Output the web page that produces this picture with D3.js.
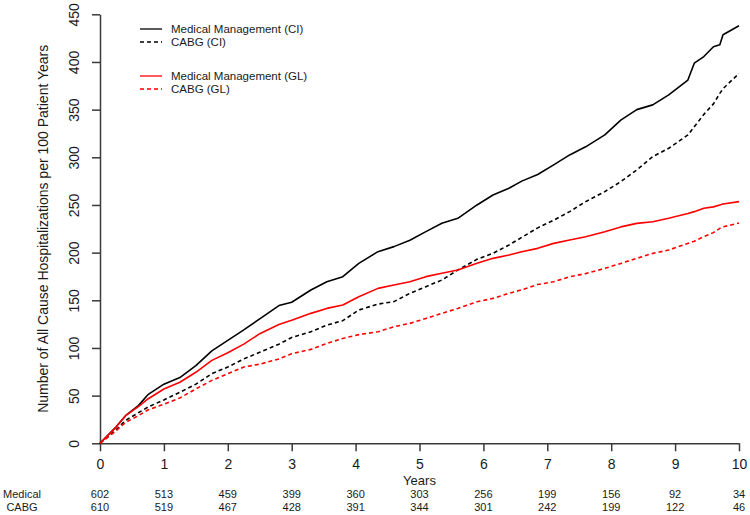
<!DOCTYPE html>
<html>
<head>
<meta charset="utf-8">
<script src="https://cdn.jsdelivr.net/npm/d3@7"></script>
<style>
  html, body { margin: 0; padding: 0; background: #fff; }
  svg { display: block; font-family: "Liberation Sans", Arial, sans-serif; }
</style>
</head>
<body>
<svg id="chart" width="750" height="515"></svg>
<script>
// ---- data ----
const years = [0, 0.25, 0.4, 0.6, 0.75, 1, 1.25, 1.5, 1.75, 2, 2.25, 2.5, 2.8, 3, 3.3, 3.55, 3.8, 4.05, 4.35, 4.6, 4.85, 5.1, 5.35, 5.6, 5.9, 6.15, 6.4, 6.6, 6.85, 7.1, 7.35, 7.6, 7.9, 8.15, 8.4, 8.65, 8.9, 9.2, 9.3, 9.45, 9.6, 9.7, 9.75, 10];
const medicalCI = [0, 17, 29, 39.5, 51, 62, 69, 81.5, 97, 108, 119, 130.5, 144.5, 148, 160.8, 169.5, 174.8, 188.8, 201, 206.3, 213, 222, 230.8, 236, 250, 260.5, 267.5, 275, 282, 292, 302.5, 311, 323.5, 339, 350, 355, 365.5, 381, 398.7, 405.7, 416, 418, 428.5, 438];
const cabgCI = [0, 14, 24, 32, 38, 45.5, 53.5, 62, 73, 80, 88.5, 95.5, 104, 111, 117, 124, 128.6, 139.8, 146, 148.6, 157.3, 164.3, 171.3, 181.8, 193, 199.3, 208, 216, 226, 234, 243, 253.5, 264, 274.5, 286.7, 300.7, 309.5, 323.5, 332, 345, 356, 367, 372, 388];
const medicalGL = [0, 17, 29, 38.5, 46.5, 57, 64, 74.5, 87, 95, 104, 115, 124.6, 129, 136.3, 141.5, 145, 153.8, 162.5, 166, 169.5, 174.8, 178.3, 181.8, 188.8, 194, 197.5, 201, 204.5, 209.7, 213.2, 216.7, 222, 227, 230.7, 232.4, 236, 241, 243, 246.5, 248, 250, 251, 253.5];
const cabgGL = [0, 13, 22, 29, 35, 41, 47.6, 57, 66, 73, 80, 83, 88.5, 94, 98.5, 104.8, 110, 114, 117, 122.3, 125.8, 131, 136.3, 141.5, 148.5, 152, 157.3, 161, 166.5, 169.4, 174.7, 178, 183.5, 188.7, 194, 199.2, 202.7, 209.7, 212, 216.7, 221, 225.5, 227, 231];

const xTicks = [0, 1, 2, 3, 4, 5, 6, 7, 8, 9, 10];
const yTicks = [0, 50, 100, 150, 200, 250, 300, 350, 400, 450];
const atRiskMedical = [602, 513, 459, 399, 360, 303, 256, 199, 156, 92, 34];
const atRiskCABG = [610, 519, 467, 428, 391, 344, 301, 242, 199, 122, 46];

const seriesNames = ["Medical Management (CI)", "CABG (CI)", "Medical Management (GL)", "CABG (GL)"];
const seriesValues = [medicalCI, cabgCI, medicalGL, cabgGL];
const seriesColors = ["#000000", "#000000", "#ff0000", "#ff0000"];
const seriesDashed = [false, true, false, true];

// ---- layout ----
const svg = d3.select("#chart");
const x = d3.scaleLinear().domain([0, 10]).range([100, 739]);
const y = d3.scaleLinear().domain([0, 450]).range([443.3, 14.3]);
const axisColor = "#3a3a3a";
const textColor = "#1a1a1a";

// X axis
const xAxis = svg.append("g").attr("transform", `translate(0,${y(0)})`)
  .call(d3.axisBottom(x).tickValues(xTicks).tickSize(8).tickSizeOuter(0).tickPadding(8).tickFormat(d3.format("d")));
xAxis.select(".domain").attr("stroke", axisColor).attr("stroke-width", 1.5);
xAxis.selectAll(".tick line").attr("stroke", axisColor).attr("stroke-width", 1.5);
xAxis.selectAll(".tick text").attr("font-size", 14).attr("fill", textColor)
  .attr("font-family", "'Liberation Sans', Arial, sans-serif");

// Y axis
const yAxis = svg.append("g").attr("transform", `translate(${x(0)},0)`)
  .call(d3.axisLeft(y).tickValues(yTicks).tickSize(8).tickSizeOuter(0).tickFormat(d3.format("d")));
yAxis.select(".domain").attr("stroke", axisColor).attr("stroke-width", 1.5);
yAxis.selectAll(".tick line").attr("stroke", axisColor).attr("stroke-width", 1.5);
yAxis.selectAll(".tick text")
  .attr("font-size", 14).attr("fill", textColor)
  .attr("font-family", "'Liberation Sans', Arial, sans-serif")
  .attr("x", 0).attr("dy", null)
  .attr("text-anchor", "middle")
  .attr("transform", "translate(-21,0) rotate(-90)")
  .attr("y", 0);

// Axis titles
svg.append("text")
  .attr("transform", `translate(48,${(y(0) + y(450)) / 2}) rotate(-90)`)
  .attr("text-anchor", "middle").attr("font-size", 14).attr("fill", textColor)
  .text("Number of All Cause Hospitalizations per 100 Patient Years");

svg.append("text")
  .attr("x", x(5)).attr("y", 485)
  .attr("text-anchor", "middle").attr("font-size", 13).attr("fill", textColor)
  .text("Years");

// At-risk table
const riskRows = [["Medical", atRiskMedical, 497.8], ["CABG", atRiskCABG, 510.6]];
riskRows.forEach(([label, vals, yy]) => {
  svg.append("text").attr("x", 22).attr("y", yy).attr("text-anchor", "middle")
    .attr("font-size", 11).attr("fill", textColor).text(label);
  svg.append("g").selectAll("text").data(vals).join("text")
    .attr("x", (d, i) => x(xTicks[i])).attr("y", yy)
    .attr("text-anchor", "middle").attr("font-size", 11).attr("fill", textColor)
    .text(d => d);
});

// Curves
const line = d3.line().x(d => x(d[0])).y(d => y(d[1]));
seriesValues.forEach((vals, k) => {
  const pts = years.map((t, i) => [t, vals[i]]);
  svg.append("path").datum(pts)
    .attr("d", line).attr("fill", "none")
    .attr("stroke", seriesColors[k]).attr("stroke-width", 1.6)
    .attr("stroke-linejoin", "round")
    .attr("stroke-dasharray", seriesDashed[k] ? "4,3" : null);
});

// Legend
const legendY = [29, 42, 76, 89];
seriesNames.forEach((name, k) => {
  svg.append("line").attr("x1", 140).attr("x2", 162).attr("y1", legendY[k]).attr("y2", legendY[k])
    .attr("stroke", seriesColors[k]).attr("stroke-width", 1.3)
    .attr("stroke-dasharray", seriesDashed[k] ? "4,3" : null);
  svg.append("text").attr("x", 171).attr("y", legendY[k] + 4)
    .attr("font-size", 11.5).attr("fill", textColor).text(name);
});
</script>
</body>
</html>
